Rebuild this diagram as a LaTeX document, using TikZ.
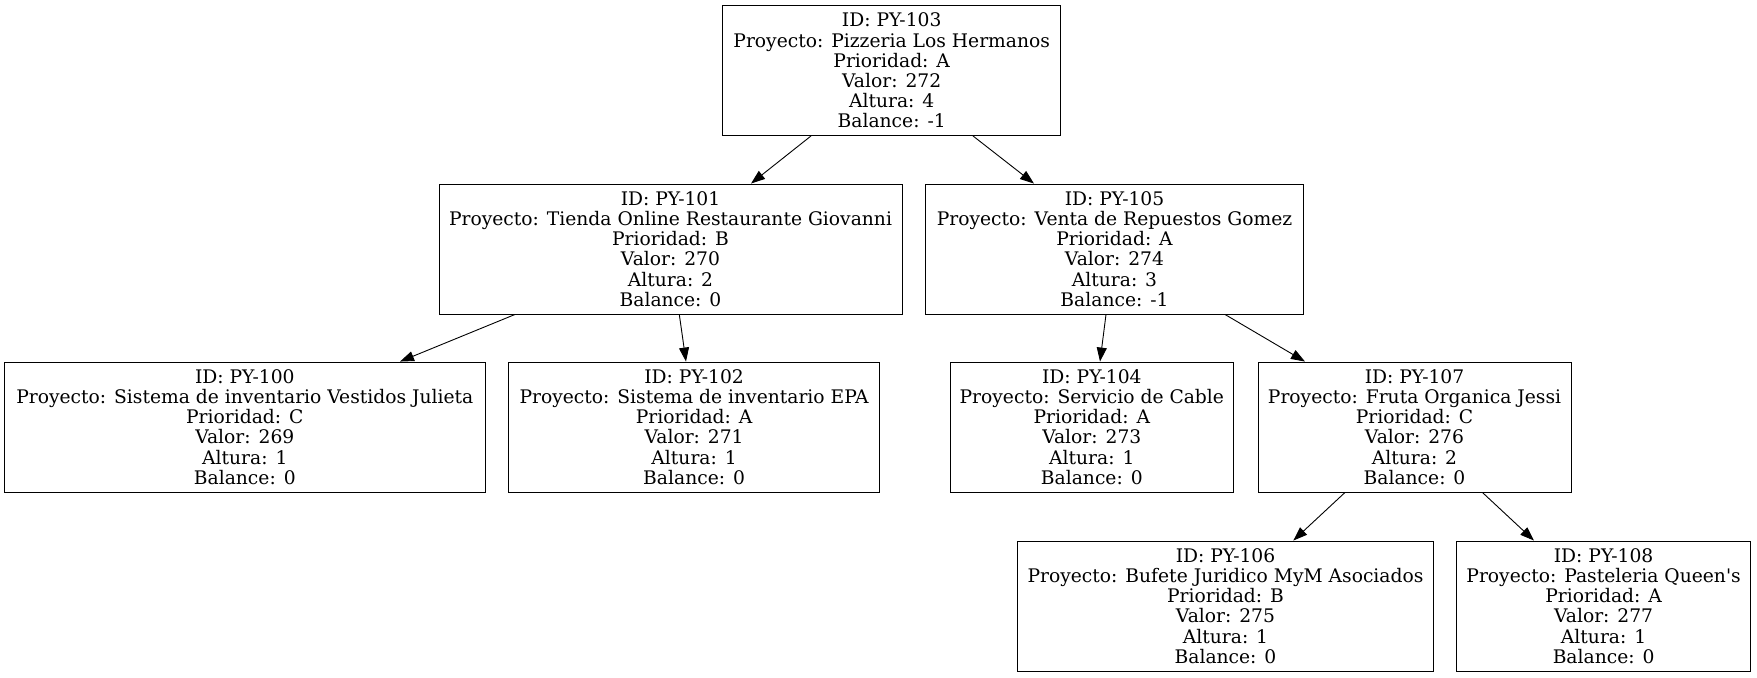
\documentclass[tikz,border=0pt]{standalone}
\usepackage{fontspec}
\setmainfont{DejaVu Serif}
\usetikzlibrary{arrows.meta,calc}
\tikzset{
  avl/.style={draw=black, line width=0.45pt, rectangle, inner sep=0pt, align=center,
    minimum height=65pt, font=\fontsize{9.35pt}{10.1pt}\selectfont},
  edge/.style={draw=black, line width=0.45pt, -{Triangle[length=7pt,width=5pt]}}
}
\begin{document}
\begin{tikzpicture}[x=0.5pt,y=-0.5pt]
\useasboundingbox (0,0) rectangle (1757,677);
\node[avl, minimum width=169pt] (n103) at (891.7,70.5) {ID: PY-103\\Proyecto: Pizzeria Los Hermanos\\Prioridad: A\\Valor: 272\\Altura: 4\\Balance: -1};
\node[avl, minimum width=231.5pt] (n101) at (670.5,249) {ID: PY-101\\Proyecto: Tienda Online Restaurante Giovanni\\Prioridad: B\\Valor: 270\\Altura: 2\\Balance: 0};
\node[avl, minimum width=188.8pt] (n105) at (1114.5,249) {ID: PY-105\\Proyecto: Venta de Repuestos Gomez\\Prioridad: A\\Valor: 274\\Altura: 3\\Balance: -1};
\node[avl, minimum width=240.25pt] (n100) at (244.8,427) {ID: PY-100\\Proyecto: Sistema de inventario Vestidos Julieta\\Prioridad: C\\Valor: 269\\Altura: 1\\Balance: 0};
\node[avl, minimum width=185.5pt] (n102) at (694.1,427) {ID: PY-102\\Proyecto: Sistema de inventario EPA\\Prioridad: A\\Valor: 271\\Altura: 1\\Balance: 0};
\node[avl, minimum width=141.75pt] (n104) at (1091.8,427) {ID: PY-104\\Proyecto: Servicio de Cable\\Prioridad: A\\Valor: 273\\Altura: 1\\Balance: 0};
\node[avl, minimum width=156.5pt] (n107) at (1414.5,427) {ID: PY-107\\Proyecto: Fruta Organica Jessi\\Prioridad: C\\Valor: 276\\Altura: 2\\Balance: 0};
\node[avl, minimum width=207.8pt] (n106) at (1225.5,606) {ID: PY-106\\Proyecto: Bufete Juridico MyM Asociados\\Prioridad: B\\Valor: 275\\Altura: 1\\Balance: 0};
\node[avl, minimum width=146.9pt] (n108) at (1603.6,606) {ID: PY-108\\Proyecto: Pasteleria Queen\textquotesingle s\\Prioridad: A\\Valor: 277\\Altura: 1\\Balance: 0};
\path[edge] ([xshift=-40.35pt]n103.south) -- ([xshift=40.25pt]n101.north);
\path[edge] ([xshift=40.65pt]n103.south) -- ([xshift=-40.25pt]n105.north);
\path[edge] ([xshift=-77.75pt]n101.south) -- ([xshift=77.6pt]n100.north);
\path[edge] ([xshift=4.4pt]n101.south) -- ([xshift=-4.05pt]n102.north);
\path[edge] ([xshift=-4.25pt]n105.south) -- ([xshift=4.1pt]n104.north);
\path[edge] ([xshift=55.25pt]n105.south) -- ([xshift=-54.75pt]n107.north);
\path[edge] ([xshift=-34.75pt]n107.south) -- ([xshift=33.9pt]n106.north);
\path[edge] ([xshift=33.95pt]n107.south) -- ([xshift=-34.8pt]n108.north);
\end{tikzpicture}
\end{document}
